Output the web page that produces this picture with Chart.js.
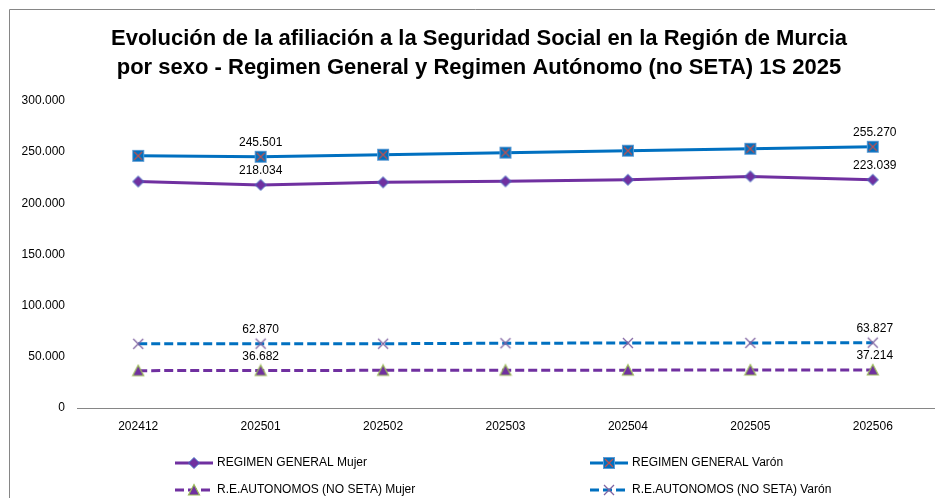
<!DOCTYPE html>
<html>
<head>
<meta charset="utf-8">
<script src="https://cdn.jsdelivr.net/npm/chart.js@4/dist/chart.umd.min.js"></script>
<style>
  html, body { margin: 0; padding: 0; background: #fff; }
  #wrap { width: 935px; height: 498px; overflow: hidden; }
</style>
</head>
<body>
<div id="wrap"><canvas id="afiliacionChart" width="941" height="498"></canvas></div>
<script>
    // datos
    var periodos = ['202412', '202501', '202502', '202503', '202504', '202505', '202506'];
    var rgMujer = [221300, 218034, 220500, 221500, 223000, 226300, 223039];
    var rgVaron = [246400, 245501, 247500, 249500, 251400, 253300, 255270];
    var retaMujer = [36500, 36682, 36800, 36900, 37000, 37100, 37214];
    var retaVaron = [62700, 62870, 62800, 63300, 63500, 63600, 63827];
    var etiquetasY = [0, 50000, 100000, 150000, 200000, 250000, 300000];
    var puntosConEtiqueta = [1, 6];
    var titulo = ['Evolución de la afiliación a la Seguridad Social en la Región de Murcia',
                  'por sexo - Regimen General y Regimen Autónomo (no SETA) 1S 2025'];

    var purpura = '#7030A0';
    var azul = '#0070C0';
    var fuente = '"Liberation Sans", Arial, sans-serif';

    function fmt(v) {
        return String(Math.round(v)).replace(/\B(?=(\d{3})+(?!\d))/g, '.');
    }

    // marcadores dibujados en canvas pequeños
    function marcador(tipo) {
        var c = document.createElement('canvas');
        c.width = 14; c.height = 14;
        var g = c.getContext('2d');
        if (tipo === 'rombo') {
            g.beginPath();
            g.moveTo(7, 1.5); g.lineTo(12.5, 7); g.lineTo(7, 12.5); g.lineTo(1.5, 7); g.closePath();
            g.fillStyle = purpura; g.fill();
            g.strokeStyle = '#4472C4'; g.lineWidth = 1; g.stroke();
        } else if (tipo === 'cuadro') {
            g.fillStyle = azul;
            g.fillRect(1.5, 1.5, 11, 11);
            g.strokeStyle = '#5B9BD5'; g.lineWidth = 1; g.strokeRect(1.5, 1.5, 11, 11);
            g.beginPath();
            g.moveTo(3, 3); g.lineTo(11, 11); g.moveTo(11, 3); g.lineTo(3, 11);
            g.strokeStyle = '#C0504D'; g.lineWidth = 1.2; g.stroke();
        } else if (tipo === 'triangulo') {
            g.beginPath();
            g.moveTo(7, 1.5); g.lineTo(12.5, 12); g.lineTo(1.5, 12); g.closePath();
            g.fillStyle = purpura; g.fill();
            g.strokeStyle = '#9BBB59'; g.lineWidth = 1.2; g.stroke();
        } else {
            g.beginPath();
            g.moveTo(2, 2); g.lineTo(12, 12); g.moveTo(12, 2); g.lineTo(2, 12);
            g.strokeStyle = '#8064A2'; g.lineWidth = 1.3; g.stroke();
        }
        return c;
    }

    var marcas = [marcador('rombo'), marcador('cuadro'), marcador('triangulo'), marcador('cruz')];

    var marcoPlugin = {
        id: 'marco',
        beforeDraw: function (chart) {
            var ctx = chart.ctx;
            ctx.save();
            ctx.strokeStyle = '#868686';
            ctx.lineWidth = 1;
            ctx.beginPath();
            ctx.moveTo(9.5, 498); ctx.lineTo(9.5, 9.5); ctx.lineTo(941, 9.5);
            ctx.stroke();
            // titulo
            ctx.fillStyle = '#000';
            ctx.font = 'bold 22px ' + fuente;
            ctx.textAlign = 'center';
            ctx.textBaseline = 'middle';
            ctx.fillText(titulo[0], 479, 39);
            ctx.fillText(titulo[1], 479, 68);
            ctx.restore();
        }
    };

    var etiquetasPlugin = {
        id: 'etiquetas',
        afterDatasetsDraw: function (chart) {
            var ctx = chart.ctx;
            ctx.save();
            ctx.font = '12px ' + fuente;
            ctx.fillStyle = '#000';
            ctx.textAlign = 'center';
            ctx.textBaseline = 'middle';
            chart.data.datasets.forEach(function (ds, i) {
                var meta = chart.getDatasetMeta(i);
                puntosConEtiqueta.forEach(function (idx) {
                    var p = meta.data[idx];
                    ctx.fillText(fmt(ds.data[idx]), p.x + (idx === 6 ? 2 : 0), p.y - 14);
                });
            });
            ctx.restore();
        }
    };

    var leyendaPlugin = {
        id: 'leyenda',
        afterDraw: function (chart) {
            var ctx = chart.ctx;
            var pos = [[175, 463], [590, 463], [175, 490], [590, 490]];
            ctx.save();
            ctx.font = '12px ' + fuente;
            ctx.fillStyle = '#000';
            ctx.textBaseline = 'middle';
            chart.data.datasets.forEach(function (ds, i) {
                var x = pos[i][0], y = pos[i][1];
                ctx.strokeStyle = ds.borderColor;
                ctx.lineWidth = 3;
                ctx.setLineDash(ds.borderDash || []);
                ctx.beginPath();
                ctx.moveTo(x, y); ctx.lineTo(x + 38, y);
                ctx.stroke();
                ctx.setLineDash([]);
                ctx.drawImage(ds.pointStyle, x + 12, y - 7);
                ctx.fillText(ds.label, x + 42, y);
            });
            ctx.restore();
        }
    };

    var ctx = document.getElementById('afiliacionChart').getContext('2d');
    var afiliacionChart = new Chart(ctx, {
        type: 'line',
        data: {
            labels: periodos,
            datasets: [{
                label: 'REGIMEN GENERAL Mujer',
                data: rgMujer,
                borderColor: purpura,
                borderWidth: 3,
                pointStyle: marcas[0]
            }, {
                label: 'REGIMEN GENERAL Varón',
                data: rgVaron,
                borderColor: azul,
                borderWidth: 3,
                pointStyle: marcas[1]
            }, {
                label: 'R.E.AUTONOMOS (NO SETA) Mujer',
                data: retaMujer,
                borderColor: purpura,
                borderWidth: 3,
                borderDash: [9, 4],
                pointStyle: marcas[2]
            }, {
                label: 'R.E.AUTONOMOS (NO SETA) Varón',
                data: retaVaron,
                borderColor: azul,
                borderWidth: 3,
                borderDash: [9, 4],
                pointStyle: marcas[3]
            }]
        },
        options: {
            responsive: false,
            animation: false,
            layout: { padding: { left: 0, right: 0, top: 101, bottom: 60 } },
            elements: { line: { tension: 0 } },
            scales: {
                x: {
                    offset: true,
                    grid: { display: false },
                    border: { color: '#868686', width: 1 },
                    ticks: { color: '#000', font: { size: 12, family: fuente }, padding: 3, maxRotation: 0 },
                    afterFit: function (s) { s.height = 30; }
                },
                y: {
                    min: 0,
                    max: 300000,
                    afterBuildTicks: function (s) { s.ticks = etiquetasY.map(function (v) { return { value: v }; }); },
                    grid: { display: false },
                    border: { display: false },
                    ticks: { color: '#000', font: { size: 12, family: fuente }, padding: 4, callback: function (v) { return fmt(v); } },
                    afterFit: function (s) { s.width = 77; }
                }
            },
            plugins: {
                legend: { display: false },
                tooltip: { enabled: false },
                title: { display: false }
            }
        },
        plugins: [marcoPlugin, etiquetasPlugin, leyendaPlugin]
    });
</script>
</body>
</html>
